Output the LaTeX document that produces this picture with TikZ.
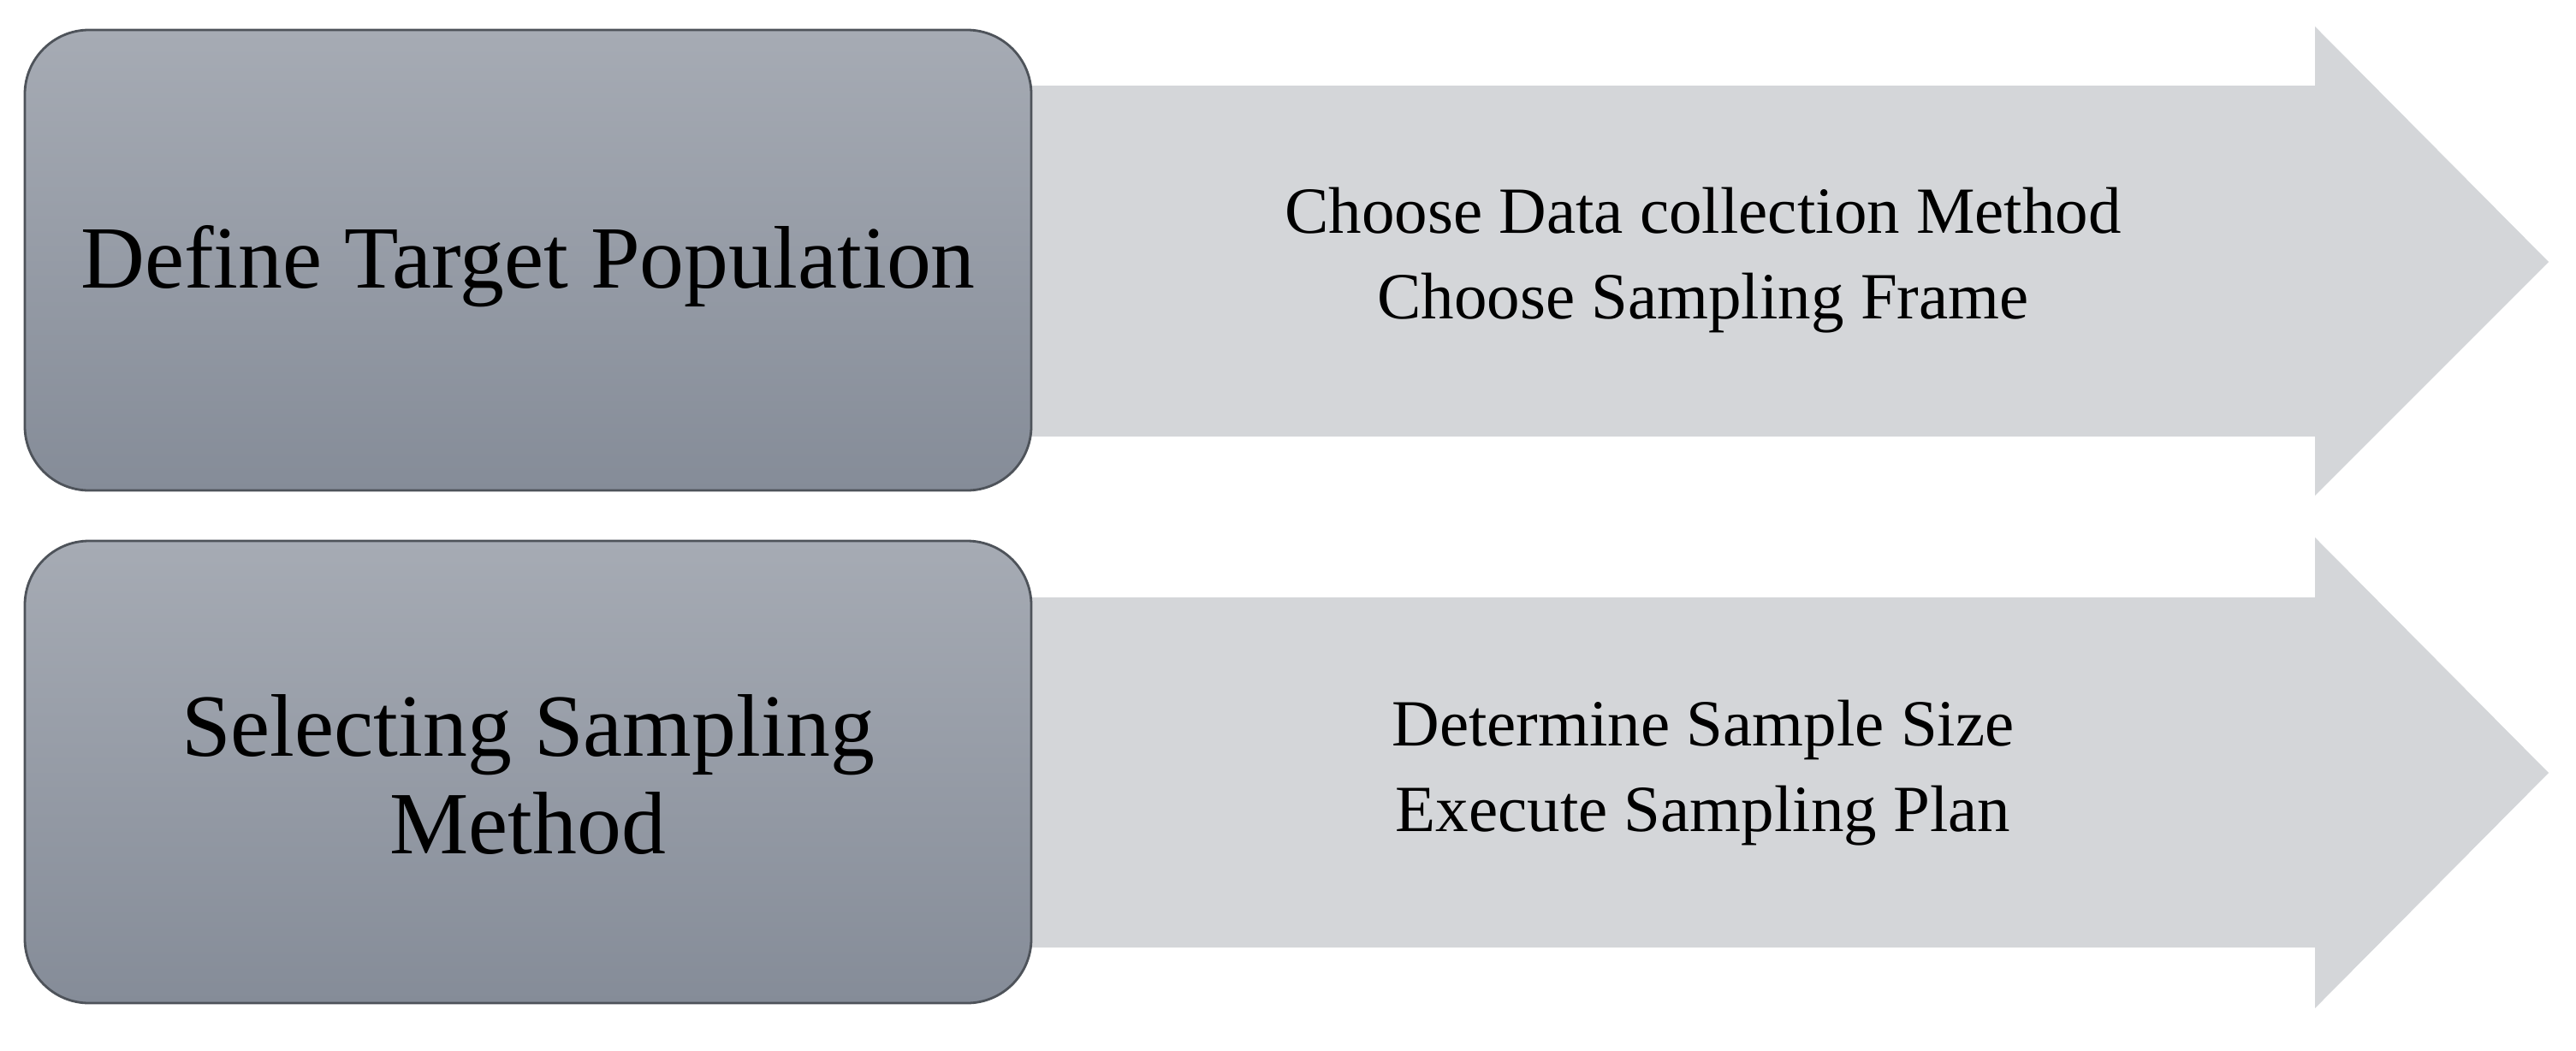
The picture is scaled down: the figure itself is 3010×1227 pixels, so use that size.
\documentclass[tikz,border=0pt]{standalone}
\usepackage{fontspec}
\setmainfont{Liberation Serif}
\definecolor{boxtop}{HTML}{A6ABB4}
\definecolor{boxbot}{HTML}{858C98}
\definecolor{boxline}{HTML}{4E535A}
\definecolor{arrowfill}{HTML}{D4D6D9}
\tikzset{
  stagebox/.style={draw=boxline, line width=0.8pt, rounded corners=0.75cm, top color=boxtop, bottom color=boxbot},
  arrowshape/.style={fill=arrowfill, draw=none},
  bigtext/.style={font=\fontsize{29.5}{32.5}\selectfont, align=center, text=black},
  smalltext/.style={font=\fontsize{21.9}{28.5}\selectfont, align=center, text=black}
}
\begin{document}
\begin{tikzpicture}[x=0.01cm, y=-0.01cm]
\useasboundingbox (0,0) rectangle (3010,1227);
% top row
\path[arrowshape] (1150,100) -- (2705,100) -- (2705,31) -- (2978,306) -- (2705,579) -- (2705,510) -- (1150,510) -- cycle;
\path[stagebox] (29,35) rectangle (1205,573);
\node[bigtext] (define) at (617,311) {Define Target Population};
\node[smalltext] (choose) at (1990,304) {Choose Data collection Method\\Choose Sampling Frame};
% bottom row
\path[arrowshape] (1150,698) -- (2705,698) -- (2705,628) -- (2978,903) -- (2705,1178) -- (2705,1107) -- (1150,1107) -- cycle;
\path[stagebox] (29,632) rectangle (1205,1172);
\node[bigtext] (select) at (617,905) {Selecting Sampling\\Method};
\node[smalltext] (determine) at (1990,903) {Determine Sample Size\\Execute Sampling Plan};
\end{tikzpicture}
\end{document}
